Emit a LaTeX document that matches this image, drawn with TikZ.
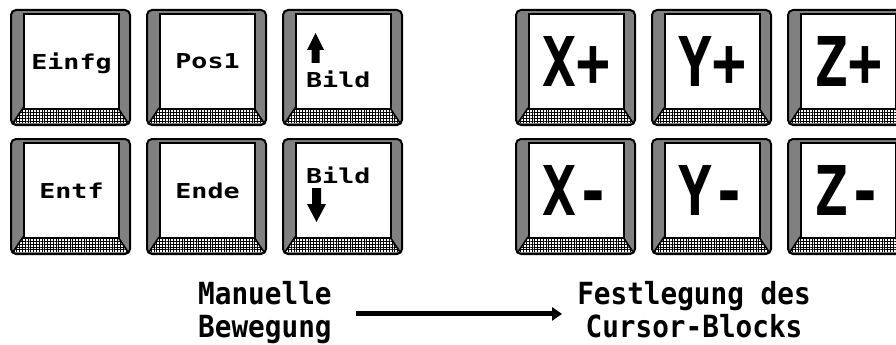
\documentclass[tikz,border=0pt]{standalone}
\usepackage{fontspec}
\usetikzlibrary{arrows.meta,patterns.meta}
\newfontfamily\monofont{DejaVu Sans Mono}
% key caps, large axis labels and caption lines
\newcommand\keylabel[1]{\scalebox{1.3}[1]{\fontsize{20.5}{24}\selectfont\monofont\bfseries #1}}
\newcommand\biglabel[1]{\scalebox{1.08}[1.32]{\fontsize{52}{60}\selectfont\monofont\bfseries #1}}
\newcommand\capline[1]{\scalebox{1}[1.1]{#1}}

\tikzset{
  x=1pt, y=-1pt,
  rim/.style={draw=black, line width=2pt, rounded corners=5pt},
  sidebevel/.style={fill=black!50, rounded corners=5pt},
  basebevel/.style={pattern={Hatch[distance=2.8pt,line width=0.7pt]}},
  beveledge/.style={line width=1.6pt, line cap=round},
  keyface/.style={draw=black, fill=white, line width=2pt, minimum width=95pt,
    minimum height=95pt, inner sep=0pt, anchor=north west, text depth=0pt},
  caption/.style={font=\fontsize{27.7}{33}\selectfont\monofont\bfseries, inner sep=0pt},
  flowarrow/.style={-{Triangle[length=10pt,width=13pt]}, line width=5pt},
  blockarrow/.style={fill=black},
}

% one key cap: name, left, top, label
\newcommand\keycap[4]{%
  \begin{scope}[shift={(#2,#3)}]
    \fill[sidebevel] (0,0) rectangle (119,115);
    \fill[white] (12,98) -- (107,98) -- (117,113) -- (2,113) -- cycle;
    \fill[basebevel] (12,98) -- (107,98) -- (117,113) -- (2,113) -- cycle;
    \draw[beveledge] (12,98) -- (2,113) (107,98) -- (117,113);
    \draw[rim] (0,0) rectangle (119,115);
    \node[keyface] (#1) at (12,3) {#4};
  \end{scope}}

\begin{document}
\begin{tikzpicture}
\useasboundingbox (0,0) rectangle (896,345);
\clip (0,0) rectangle (896,345);

% editing block
\keycap{einfg}{11}{10}{\keylabel{Einfg}}
\keycap{pos}{147}{10}{\keylabel{Pos1}}
\keycap{pgup}{283}{10}{}
\keycap{entf}{11}{139}{\keylabel{Entf}}
\keycap{ende}{147}{139}{\keylabel{Ende}}
\keycap{pgdn}{283}{139}{}

% page keys
\fill[blockarrow] (315.5,33) -- (324,50) -- (319.5,50) -- (319.5,63) -- (311.5,63)
  -- (311.5,50) -- (307,50) -- cycle;
\node[anchor=base west, inner sep=0pt] (pguptext) at (306,87) {\keylabel{Bild}};
\node[anchor=base west, inner sep=0pt] (pgdntext) at (306,183) {\keylabel{Bild}};
\fill[blockarrow] (312,188) -- (321,188) -- (321,204) -- (326,204) -- (316.5,222)
  -- (307,204) -- (312,204) -- cycle;

% cursor block
\keycap{xplus}{516}{10}{\biglabel{X+}}
\keycap{yplus}{652}{10}{\biglabel{Y+}}
\keycap{zplus}{788}{10}{\biglabel{Z+}}
\keycap{xminus}{516}{139}{\biglabel{X-}}
\keycap{yminus}{652}{139}{\biglabel{Y-}}
\keycap{zminus}{788}{139}{\biglabel{Z-}}

% captions
\node[caption, align=left, anchor=north west] (manual) at (198,281)
  {\capline{Manuelle}\\\capline{Bewegung}};
\node[caption, align=center, anchor=north] (cursor) at (694,281)
  {\capline{Festlegung des}\\\capline{Cursor-Blocks}};
\draw[flowarrow] ([xshift=24pt,yshift=-1.5pt]manual.east)
  -- ([xshift=-15pt,yshift=-1.5pt]manual.east -| cursor.west);
\end{tikzpicture}
\end{document}
